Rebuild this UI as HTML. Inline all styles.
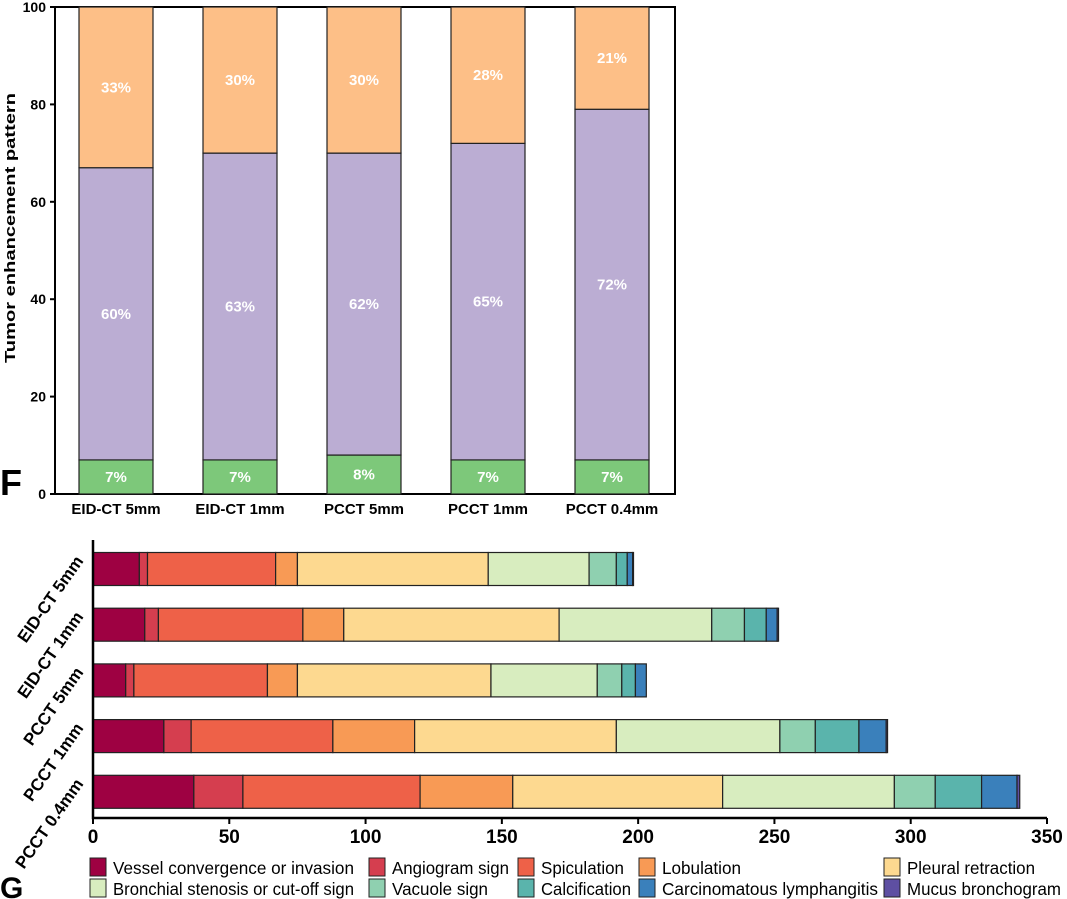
<!DOCTYPE html>
<html><head><meta charset="utf-8"><style>
body{margin:0;background:#fff;}
svg{display:block;font-family:"Liberation Sans",Arial,sans-serif;}
</style></head><body>
<svg id="fig" width="1067" height="899" viewBox="0 0 1067 899">
<g id="chartF"></g>
<g id="chartG"></g>
<text x="0" y="495" font-size="36" font-weight="bold">F</text>
<text x="0" y="898" font-size="30" font-weight="bold">G</text>
</svg>
<script>
// Chart F data
const fCategories = ["EID-CT 5mm","EID-CT 1mm","PCCT 5mm","PCCT 1mm","PCCT 0.4mm"];
const fGreen = [7,7,8,7,7];
const fPurple = [60,63,62,65,72];
const fOrange = [33,30,30,28,21];
const fTicks = [0,20,40,60,80,100];

// Chart G data
const gCategories = ["EID-CT 5mm","EID-CT 1mm","PCCT 5mm","PCCT 1mm","PCCT 0.4mm"];
const gSeriesNames = ["Vessel convergence or invasion","Angiogram sign","Spiculation","Lobulation","Pleural retraction","Bronchial stenosis or cut-off sign","Vacuole sign","Calcification","Carcinomatous lymphangitis","Mucus bronchogram"];
const gVessel = [17,19,12,26,37];
const gAngiogram = [3,5,3,10,18];
const gSpiculation = [47,53,49,52,65];
const gLobulation = [8,15,11,30,34];
const gPleural = [70,79,71,74,77];
const gBronchial = [37,56,39,60,63];
const gVacuole = [10,12,9,13,15];
const gCalcification = [4,8,5,16,17];
const gLymph = [2,4,4,10,13];
const gMucus = [0.3,0.5,0,0.5,1];
const gTicks = [0,50,100,150,200,250,300,350];

const NS="http://www.w3.org/2000/svg";
function mk(parent,tag,attrs){const e=document.createElementNS(NS,tag);for(const k in attrs)e.setAttribute(k,attrs[k]);parent.appendChild(e);return e;}

// ---- Chart F ----
(function(){
const g=document.getElementById('chartF');
const L=55,R=675,T=7,B=494;
const y=v=>B-(v/100)*(B-T);
const cx=i=>116+i*124;
const bw=74;
const fr=mk(g,'rect',{x:L,y:T,width:R-L,height:B-T,fill:'none',stroke:'#000','stroke-width':2});


fTicks.forEach(t=>{
  const ln=mk(g,'line',{x1:L-5,x2:L,y1:y(t),y2:y(t),stroke:'#000','stroke-width':2});
  
  
  const tx=mk(g,'text',{x:L-9,y:y(t)+5,'text-anchor':'end','font-size':14,'font-weight':'bold'});
  tx.textContent=t;
  
  
});
const segs=[[fGreen,'#7dc87a'],[fPurple,'#bbadd3'],[fOrange,'#fdbf87']];
fCategories.forEach((c,i)=>{
  let base=0;
  segs.forEach(([arr,col])=>{
    const v=arr[i];
    const r=mk(g,'rect',{x:cx(i)-bw/2,y:y(base+v),width:bw,height:y(base)-y(base+v),fill:col,stroke:'#222','stroke-width':1.2});
    
    
    const t=mk(g,'text',{x:cx(i),y:y(base+v/2)+5,'text-anchor':'middle','font-size':15,'font-weight':'bold',fill:'#fff'});
    t.textContent=v+'%';
    
    
    base+=v;
  });
  const xl=mk(g,'text',{x:cx(i),y:514,'text-anchor':'middle','font-size':15,'font-weight':'bold'});
  xl.textContent=c;
  
  
});
const yt=mk(g,'text',{x:0,y:0,transform:'translate(15,228) rotate(-90)','text-anchor':'middle','font-size':15,'font-weight':'bold',textLength:270,lengthAdjust:'spacingAndGlyphs'});
yt.textContent='Tumor enhancement pattern';


})();

// ---- Chart G ----
(function(){
const g=document.getElementById('chartG');
const L=93,R=1047,T=540,B=818;
const x=v=>L+(v/350)*(R-L);
const cy=i=>569+i*55.7;
const bh=33;
const colors=['#9e0142','#d53e4f','#ee6148','#f89a55','#fdd990','#d8edbf','#8fd0b0','#5ab4ac','#3a80bb','#5e4fa2'];
const series=[gVessel,gAngiogram,gSpiculation,gLobulation,gPleural,gBronchial,gVacuole,gCalcification,gLymph,gMucus];
gCategories.forEach((c,i)=>{
  let base=0;
  series.forEach((arr,k)=>{
    const v=arr[i];
    if(v<=0){return;}
    const r=mk(g,'rect',{x:x(base),y:cy(i)-bh/2,width:x(base+v)-x(base),height:bh,fill:colors[k],stroke:'#222','stroke-width':1.2});
    
    
    base+=v;
  });
  const t=mk(g,'text',{x:0,y:0,transform:`translate(84,${cy(i)-8}) rotate(-55)`,'text-anchor':'end','font-size':17,'font-weight':'bold'});
  t.textContent=c;
  
  
});
const ax=mk(g,'path',{d:`M${L},${T} V${B} H${R}`,fill:'none',stroke:'#000','stroke-width':2.5});


gTicks.forEach(t=>{
  const ln=mk(g,'line',{x1:x(t),x2:x(t),y1:B,y2:B+6,stroke:'#000','stroke-width':2});
  
  
  const tx=mk(g,'text',{x:x(t),y:B+25,'text-anchor':'middle','font-size':19,'font-weight':'bold'});
  tx.textContent=t;
  
  
});
const lx=[90,369,518,639,884];
const lw=[241,117,83,79,128,241,96,90,216,154];
gSeriesNames.forEach((n,k)=>{
  const row=Math.floor(k/5),col=k%5;
  const sx=lx[col],sy=858+row*21;
  const sw=mk(g,'rect',{x:sx,y:sy,width:16,height:18,fill:colors[k],stroke:'#222','stroke-width':1});
  
  
  const tx=mk(g,'text',{x:sx+23,y:sy+16,'font-size':17.5,textLength:lw[k],lengthAdjust:'spacingAndGlyphs'});
  tx.textContent=n;
  
  
});
})();
</script>
</body></html>
